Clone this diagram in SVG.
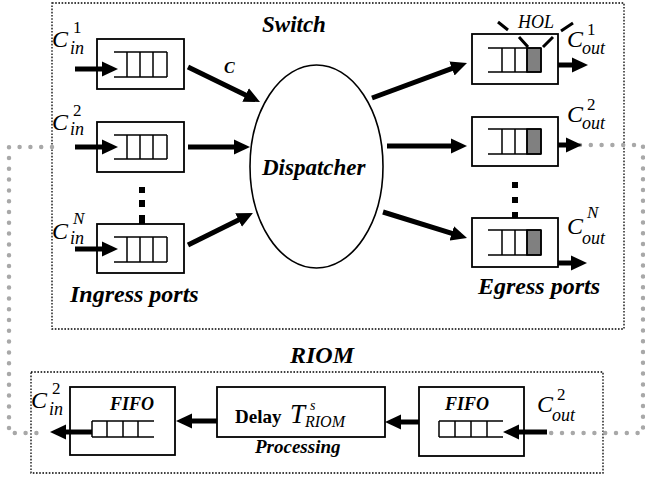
<svg xmlns="http://www.w3.org/2000/svg" width="645" height="479" viewBox="0 0 645 479">
<style>
.frame{fill:none;stroke:#000;stroke-width:1.3;stroke-dasharray:1.6 1.6}
.box{fill:#fff;stroke:#000;stroke-width:1.8}
.q{fill:none;stroke:#000;stroke-width:1.5}
.hol{fill:#808080;stroke:#000;stroke-width:1.5}
.arr{fill:none;stroke:#000;stroke-width:5}
.gray{fill:none;stroke:#a8a8a8;stroke-width:4.5;stroke-linecap:round;stroke-dasharray:0 10.8}
text{font-family:'Liberation Serif','Times New Roman',Tinos,'DejaVu Serif',serif;fill:#000}
.bi{font-weight:bold;font-style:italic}
.it{font-style:italic}
.C{font-size:24px;font-style:italic}
.sup{font-size:17px}
.sub{font-size:18px;font-style:italic}
</style>
<defs>
<marker id="ah" markerUnits="userSpaceOnUse" markerWidth="16" markerHeight="16" refX="1" refY="7.5" orient="auto" viewBox="0 0 16 15">
<path d="M0,0 L16,7.5 L0,15 z" fill="#000"/>
</marker>
</defs>

<g id="switch-frame">
<rect class="frame" x="52" y="3" width="572" height="326"/>
<text class="bi" x="262" y="32" font-size="23" font-family="Liberation Serif, serif">Switch</text>
<text class="bi" x="70" y="302" font-size="24" font-family="Liberation Serif, serif">Ingress ports</text>
<text class="bi" x="478" y="294" font-size="24" font-family="Liberation Serif, serif">Egress ports</text>
</g>

<g id="ingress1">
<rect class="box" x="97" y="39" width="87" height="50"/>
<path class="q" d="M114,52 H167 M114,77 H167 M127,52 V77 M140,52 V77 M153,52 V77 M167,52 V77"/>
<text class="C" x="52" y="47" font-family="Liberation Serif, serif">C</text>
<text class="sup" x="73" y="33" font-family="Liberation Serif, serif">1</text>
<text class="sub" x="70" y="54" font-family="Liberation Serif, serif">in</text>
</g>

<g id="ingress2">
<rect class="box" x="97" y="122" width="87" height="50"/>
<path class="q" d="M114,135 H167 M114,159 H167 M127,135 V159 M140,135 V159 M153,135 V159 M167,135 V159"/>
<text class="C" x="52" y="130" font-family="Liberation Serif, serif">C</text>
<text class="sup" x="73" y="116" font-family="Liberation Serif, serif">2</text>
<text class="sub" x="70" y="135" font-family="Liberation Serif, serif">in</text>
</g>

<g id="ingress-dots">
<rect x="139" y="187" width="6" height="6" fill="#000"/>
<rect x="139" y="200" width="6" height="7" fill="#000"/>
<rect x="139" y="215" width="6" height="9" fill="#000"/>
</g>

<g id="ingressN">
<rect class="box" x="97" y="224" width="87" height="49"/>
<path class="q" d="M114,237 H167 M114,262 H167 M127,237 V262 M140,237 V262 M153,237 V262 M167,237 V262"/>
<text class="C" x="52" y="239" font-family="Liberation Serif, serif">C</text>
<text class="sup it" x="73" y="224" font-family="Liberation Serif, serif">N</text>
<text class="sub" x="70" y="244" font-family="Liberation Serif, serif">in</text>
</g>

<g id="dispatcher">
<ellipse cx="316.5" cy="166.5" rx="66.5" ry="101.5" fill="#fff" stroke="#000" stroke-width="1.6"/>
<text class="bi" x="262" y="175" font-size="23" font-family="Liberation Serif, serif">Dispatcher</text>
</g>

<g id="egress1">
<rect class="box" x="472" y="34" width="86" height="50"/>
<rect class="hol" x="527" y="48" width="14" height="24"/>
<path class="q" d="M488,48 H541 M488,72 H541 M502,48 V72 M515,48 V72 M527,48 V72 M541,48 V72"/>
<path d="M498,22 L508,30 M561,31 L573,23 M519,37 L528,47 M543,47 L553,37" stroke="#000" stroke-width="3" fill="none"/>
<text class="it" x="518" y="28" font-size="18" font-family="Liberation Serif, serif">HOL</text>
<text class="C" x="567" y="47" font-family="Liberation Serif, serif">C</text>
<text class="sup" x="587" y="35" font-family="Liberation Serif, serif">1</text>
<text class="sub" x="582" y="54" font-family="Liberation Serif, serif">out</text>
</g>

<g id="egress2">
<rect class="box" x="472" y="117" width="86" height="49"/>
<rect class="hol" x="527" y="129" width="14" height="25"/>
<path class="q" d="M488,129 H541 M488,154 H541 M502,129 V154 M515,129 V154 M527,129 V154 M541,129 V154"/>
<text class="C" x="567" y="122" font-family="Liberation Serif, serif">C</text>
<text class="sup" x="587" y="110" font-family="Liberation Serif, serif">2</text>
<text class="sub" x="582" y="129" font-family="Liberation Serif, serif">out</text>
</g>

<g id="egress-dots">
<rect x="512" y="182" width="6" height="6" fill="#000"/>
<rect x="512" y="197" width="6" height="6" fill="#000"/>
<rect x="512" y="212" width="6" height="7" fill="#000"/>
</g>

<g id="egressN">
<rect class="box" x="472" y="218" width="86" height="49"/>
<rect class="hol" x="527" y="230" width="14" height="25"/>
<path class="q" d="M488,230 H541 M488,255 H541 M502,230 V255 M515,230 V255 M527,230 V255 M541,230 V255"/>
<text class="C" x="567" y="234" font-family="Liberation Serif, serif">C</text>
<text class="sup it" x="587" y="218" font-family="Liberation Serif, serif">N</text>
<text class="sub" x="582" y="244" font-family="Liberation Serif, serif">out</text>
</g>

<g id="riom-frame">
<rect class="frame" x="31" y="372" width="572" height="101"/>
<text class="bi" x="290" y="363" font-size="24" font-family="Liberation Serif, serif">RIOM</text>
</g>

<g id="fifo-out">
<rect class="box" x="70" y="387" width="105" height="68"/>
<text class="bi" x="110" y="410" font-size="18" font-family="Liberation Serif, serif">FIFO</text>
<path class="q" d="M92,421 H154 M92,437 H154 M92,421 V437 M107,421 V437 M123,421 V437 M138,421 V437"/>
<text class="C" x="31" y="408" font-family="Liberation Serif, serif">C</text>
<text class="sup" x="52" y="394" font-family="Liberation Serif, serif">2</text>
<text class="sub" x="49" y="415" font-family="Liberation Serif, serif">in</text>
</g>

<g id="delay">
<rect class="box" x="217" y="387" width="168" height="50"/>
<text x="235" y="423" font-size="19" font-weight="bold" font-family="Liberation Serif, serif">Delay</text>
<text class="it" x="290" y="423" font-size="27" font-family="Liberation Serif, serif">T</text>
<text class="it" x="310" y="410" font-size="14" font-family="Liberation Serif, serif">s</text>
<text class="it" x="305" y="427" font-size="16" font-family="Liberation Serif, serif">RIOM</text>
<text class="bi" x="255" y="453" font-size="19" font-family="Liberation Serif, serif">Processing</text>
</g>

<g id="fifo-in">
<rect class="box" x="419" y="387" width="105" height="69"/>
<text class="bi" x="445" y="410" font-size="18" font-family="Liberation Serif, serif">FIFO</text>
<path class="q" d="M439,421 H503 M439,437 H503 M439,421 V437 M455,421 V437 M471,421 V437 M487,421 V437"/>
<text class="C" x="537" y="412" font-family="Liberation Serif, serif">C</text>
<text class="sup" x="557" y="400" font-family="Liberation Serif, serif">2</text>
<text class="sub" x="552" y="421" font-family="Liberation Serif, serif">out</text>
</g>

<g id="connectors">
<path class="gray" d="M52,147 H9 V433 H44"/>
<path class="gray" d="M580,145 H643 V433 H547"/>
<line class="arr" x1="75" y1="69" x2="103" y2="69" marker-end="url(#ah)"/>
<line class="arr" x1="75" y1="147" x2="103" y2="147" marker-end="url(#ah)"/>
<line class="arr" x1="75" y1="249" x2="103" y2="249" marker-end="url(#ah)"/>
<line class="arr" x1="188" y1="67" x2="246.5" y2="95.4" marker-end="url(#ah)"/>
<text class="bi" x="224" y="73" font-size="16" font-family="Liberation Serif, serif">C</text>
<line class="arr" x1="188" y1="147" x2="235" y2="147" marker-end="url(#ah)"/>
<line class="arr" x1="188" y1="245" x2="239.5" y2="219.6" marker-end="url(#ah)"/>
<line class="arr" x1="372" y1="98" x2="452.9" y2="68.2" marker-end="url(#ah)"/>
<line class="arr" x1="387" y1="146" x2="452" y2="146" marker-end="url(#ah)"/>
<line class="arr" x1="383" y1="212" x2="452.7" y2="233.6" marker-end="url(#ah)"/>
<line class="arr" x1="558" y1="65" x2="573" y2="65" marker-end="url(#ah)"/>
<line class="arr" x1="558" y1="145" x2="567" y2="145" marker-end="url(#ah)"/>
<line class="arr" x1="558" y1="263" x2="572" y2="263" marker-end="url(#ah)"/>
<line class="arr" x1="92" y1="432" x2="65" y2="432" marker-end="url(#ah)"/>
<line class="arr" x1="217" y1="421" x2="191" y2="421" marker-end="url(#ah)"/>
<line class="arr" x1="419" y1="422" x2="400" y2="422" marker-end="url(#ah)"/>
<line class="arr" x1="547" y1="432" x2="518" y2="432" marker-end="url(#ah)"/>
</g>
</svg>
